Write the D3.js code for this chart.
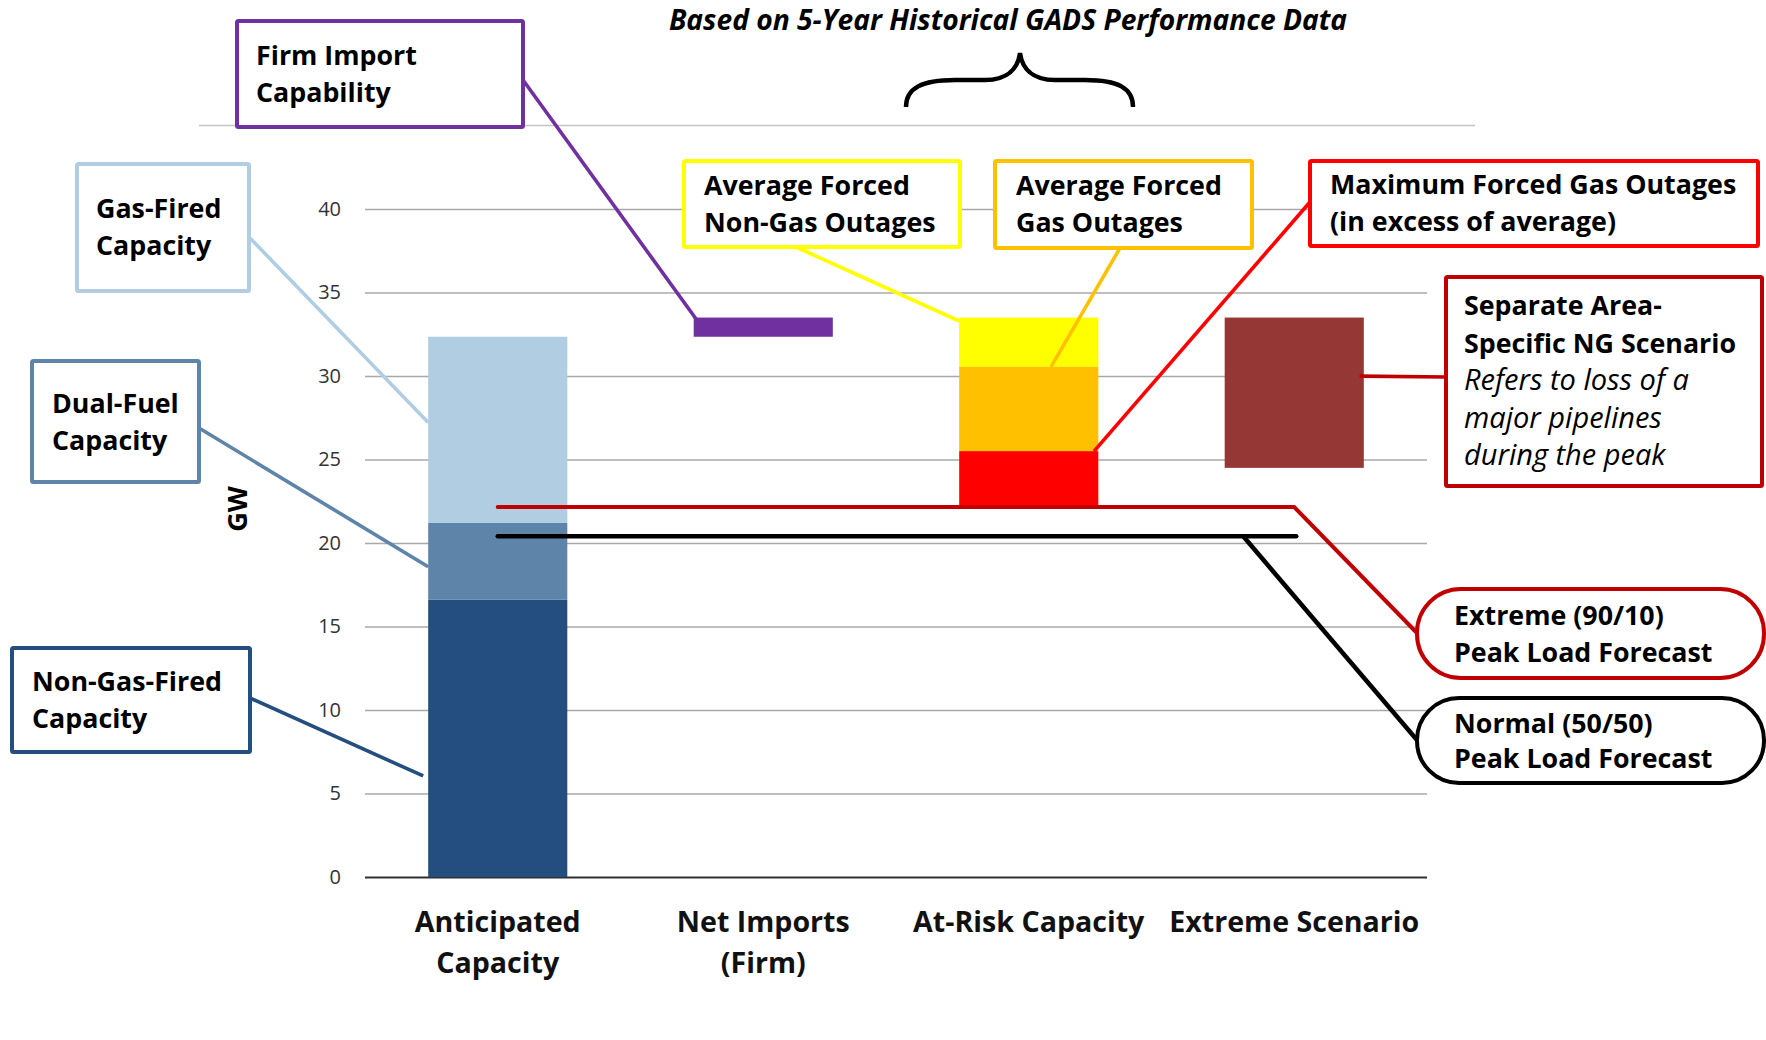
<!DOCTYPE html>
<html>
<head>
<meta charset="utf-8">
<script src="https://cdn.jsdelivr.net/npm/d3@7"></script>
<style>
  html, body { margin: 0; padding: 0; background: #fff; }
  svg { display: block; font-family: "Open Sans", Lato, sans-serif; }
</style>
</head>
<body>
<svg id="chart" width="1766" height="1040"></svg>
<script>
// ---- data (GW) ----
const categories = ["Anticipated Capacity", "Net Imports (Firm)", "At-Risk Capacity", "Extreme Scenario"];
const categoryLines = [["Anticipated", "Capacity"], ["Net Imports", "(Firm)"], ["At-Risk Capacity"], ["Extreme Scenario"]];
const capacityTypes = ["Non-Gas-Fired Capacity", "Dual-Fuel Capacity", "Gas-Fired Capacity"];
const capacityGW = [16.6, 4.6, 11.15];
const netImportsGW = 1.15;
const outageTypes = ["Average Forced Non-Gas Outages", "Average Forced Gas Outages", "Maximum Forced Gas Outages"];
const outageGW = [2.95, 5.05, 3.3];          // stacked downward from the top of supply
const extremeScenarioGW = 9.0;               // separate area-specific NG scenario
const peakLoadTypes = ["Extreme (90/10)", "Normal (50/50)"];
const peakLoadGW = [22.15, 20.4];
const yTicks = [0, 5, 10, 15, 20, 25, 30, 35, 40];

// ---- styling ----
const capacityColors = ["#234e7f", "#5e84a9", "#b0cde2"];
const importColor = "#7030a0";
const outageColors = ["#ffff00", "#ffc000", "#ff0000"];
const scenarioColor = "#953735";
const peakLoadColors = ["#c00000", "#000000"];
const FONT = '"Open Sans", Lato, sans-serif';

const svg = d3.select("#chart");
const plot = { left: 365, right: 1427, top: 125.5, bottom: 877 };

const y = d3.scaleLinear().domain([0, 45]).range([plot.bottom, plot.top]);
const x = d3.scaleBand().domain(categories).range([plot.left, plot.right])
  .paddingInner(0.476).paddingOuter(0.238);
const bw = x.bandwidth();
const cx = c => x(c) + bw / 2;

// ---- build the segments ----
const segments = [];
let acc = 0;
capacityGW.forEach((v, i) => {
  segments.push({ cat: categories[0], name: capacityTypes[i], lo: acc, hi: acc + v, color: capacityColors[i] });
  acc += v;
});
const supplyTotal = acc;
const importTop = supplyTotal + netImportsGW;
segments.push({ cat: categories[1], name: "Firm Import Capability", lo: supplyTotal, hi: importTop, color: importColor });
let level = importTop;
outageGW.forEach((v, i) => {
  segments.push({ cat: categories[2], name: outageTypes[i], lo: level - v, hi: level, color: outageColors[i] });
  level -= v;
});
segments.push({ cat: categories[3], name: "Separate Area-Specific NG Scenario", lo: importTop - extremeScenarioGW, hi: importTop, color: scenarioColor });
const seg = name => segments.find(s => s.name === name);

// ---- frame line across the top ----
svg.append("line")
  .attr("x1", 199).attr("x2", 1475)
  .attr("y1", y(45)).attr("y2", y(45))
  .attr("stroke", "#c4c4c4").attr("stroke-width", 1.3);

// ---- y axis with gridlines ----
const yAxis = svg.append("g")
  .attr("transform", `translate(${plot.left},0)`)
  .call(d3.axisLeft(y).tickValues(yTicks).tickSize(-(plot.right - plot.left)).tickPadding(24));
yAxis.select(".domain").remove();
yAxis.selectAll(".tick line")
  .attr("stroke", d => d === 0 ? "#303030" : "#a8a8a8")
  .attr("stroke-width", d => d === 0 ? 2.2 : 1.6);
yAxis.selectAll(".tick text")
  .attr("fill", "#333")
  .style("font-size", "20px")
  .style("font-family", FONT);

svg.append("text")
  .attr("transform", `translate(${247},${509}) rotate(-90)`)
  .attr("text-anchor", "middle")
  .style("font-size", "27px").style("font-weight", "bold")
  .text("GW");

// ---- category axis ----
const xAxis = svg.append("g")
  .attr("transform", `translate(0,${plot.bottom})`)
  .call(d3.axisBottom(x).tickSize(0).tickPadding(0));
xAxis.select(".domain").remove();
xAxis.selectAll(".tick text").each(function (d, i) {
  const t = d3.select(this).text(null)
    .attr("y", 0).attr("dy", null)
    .attr("fill", "#111")
    .style("font-size", "28.6px").style("font-weight", "bold")
    .style("font-family", FONT);
  categoryLines[i].forEach((ln, k) => {
    t.append("tspan").attr("x", 0).attr("y", 55 + k * 41).text(ln);
  });
});

// ---- bars ----
svg.append("g").selectAll("rect")
  .data(segments)
  .join("rect")
  .attr("x", d => x(d.cat))
  .attr("width", bw)
  .attr("y", d => y(d.hi))
  .attr("height", d => y(d.lo) - y(d.hi))
  .attr("fill", d => d.color);

// ---- peak load lines ----
peakLoadGW.forEach((v, i) => {
  svg.append("line")
    .attr("x1", cx(categories[0])).attr("x2", cx(categories[3]) + (i === 1 ? 2 : 0))
    .attr("y1", y(v)).attr("y2", y(v))
    .attr("stroke", peakLoadColors[i]).attr("stroke-width", i === 1 ? 4.5 : 4)
    .attr("stroke-linecap", "round");
});

// ---- curly brace over the at-risk columns ----
svg.append("path")
  .attr("d", "M906,107 C906,88 922,80 955,80 L985,80 C1008,80 1018,68 1020,53 C1022,68 1032,80 1055,80 L1085,80 C1118,80 1133,88 1133,107")
  .attr("fill", "none").attr("stroke", "#000").attr("stroke-width", 4.5);

svg.append("text")
  .attr("x", 1008).attr("y", 30)
  .attr("text-anchor", "middle")
  .style("font-size", "28.2px").style("font-weight", "bold").style("font-style", "italic")
  .text("Based on 5-Year Historical GADS Performance Data");

// ---- callouts ----
const at = (name, fx, fy) => {
  const s = seg(name);
  return [x(s.cat) + fx * bw, y(s.hi - fy * (s.hi - s.lo))];
};
const callouts = [
  { lines: [["Firm Import"], ["Capability"]], color: importColor, box: [237, 21, 286, 106], tx: 256, ty: 65,
    from: [523, 80], to: at("Firm Import Capability", 0.02, 0.1) },
  { lines: [["Gas-Fired"], ["Capacity"]], color: capacityColors[2], box: [77, 164, 172, 127], tx: 96, ty: 218,
    from: [249, 237], to: at(capacityTypes[2], 0, 0.46) },
  { lines: [["Dual-Fuel"], ["Capacity"]], color: capacityColors[1], box: [32, 361, 167, 121], tx: 52, ty: 413,
    from: [199, 428], to: at(capacityTypes[1], 0, 0.57) },
  { lines: [["Non-Gas-Fired"], ["Capacity"]], color: capacityColors[0], box: [12, 648, 238, 104], tx: 32, ty: 691,
    from: [250, 698], to: [x(categories[0]) - 5, y(6.05)] },
  { lines: [["Average Forced"], ["Non-Gas Outages"]], color: outageColors[0], box: [684, 161, 276, 86], tx: 704, ty: 195,
    from: [796, 247], to: at(outageTypes[0], 0, 0.07) },
  { lines: [["Average Forced"], ["Gas Outages"]], color: outageColors[1], box: [995, 161, 257, 87], tx: 1016, ty: 195,
    from: [1120, 248], to: at(outageTypes[1], 0.66, 0) },
  { lines: [["Maximum Forced Gas Outages"], ["(in excess of average)"]], color: outageColors[2], box: [1310, 161, 448, 85], tx: 1330, ty: 194,
    from: [1310, 202], to: at(outageTypes[2], 0.97, 0) },
  { lines: [["Separate Area-"], ["Specific NG Scenario"], ["Refers to loss of a", 1], ["major pipelines", 1], ["during the peak", 1]],
    color: "#c00000", box: [1446, 277, 316, 209], tx: 1464, ty: 315, lh: 37.5,
    from: [1446, 377], to: at("Separate Area-Specific NG Scenario", 0.97, 0.39) },
  { lines: [[peakLoadTypes[0]], ["Peak Load Forecast"]], color: peakLoadColors[0], box: [1417, 589, 347, 89], rx: 44, tx: 1454, ty: 625,
    from: [1417, 633], to: [cx(categories[3]), y(peakLoadGW[0])], sw: 4 },
  { lines: [[peakLoadTypes[1]], ["Peak Load Forecast"]], color: peakLoadColors[1], box: [1417, 698, 347, 85], rx: 42, tx: 1454, ty: 733, lh: 35,
    from: [1417, 740], to: [cx(categories[3]) - 51, y(peakLoadGW[1])], sw: 4.5 }
];

const gLinks = svg.append("g");
const gBoxes = svg.append("g");
callouts.forEach(c => {
  gLinks.append("line")
    .attr("x1", c.from[0]).attr("y1", c.from[1])
    .attr("x2", c.to[0]).attr("y2", c.to[1])
    .attr("stroke", c.color).attr("stroke-width", c.sw || 3.6);
  gBoxes.append("rect")
    .attr("x", c.box[0]).attr("y", c.box[1])
    .attr("width", c.box[2]).attr("height", c.box[3])
    .attr("rx", c.rx || 1.5).attr("ry", c.rx || 1.5)
    .attr("fill", "#fff").attr("stroke", c.color).attr("stroke-width", 4);
  const t = gBoxes.append("text")
    .style("font-size", "26.8px").style("font-weight", "bold").attr("fill", "#000");
  c.lines.forEach((ln, k) => {
    t.append("tspan")
      .attr("x", c.tx).attr("y", c.ty + k * (c.lh || 37))
      .style("font-weight", ln[1] ? "normal" : "bold")
      .style("font-style", ln[1] ? "italic" : "normal")
      .style("font-size", ln[1] ? "29px" : null)
      .text(ln[0]);
  });
});
</script>
</body>
</html>
